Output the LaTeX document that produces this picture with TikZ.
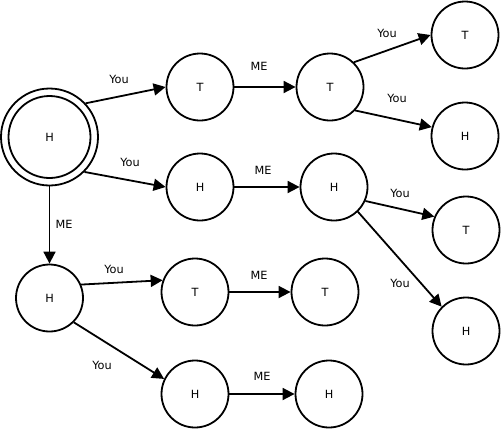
\documentclass[tikz,border=0pt]{standalone}
\usepackage{fontspec}
\setmainfont{DejaVu Sans}
\usetikzlibrary{arrows.meta}
\begin{document}
\begin{tikzpicture}[x=1pt,y=-1pt,
  state/.style={circle, draw, line width=1.8pt, minimum size=67pt, inner sep=0pt, font=\fontsize{11.3}{13}\selectfont},
  lab/.style={font=\fontsize{11.3}{13}\selectfont, inner sep=0pt},
  arr/.style={line width=1.8pt, -{Triangle[length=12pt,width=12pt]}}]
\useasboundingbox (0,0) rectangle (501,429);
\node[state, minimum size=97pt] (root) at (49.5,137) {H};
\draw[line width=1.8pt] (root.center) circle (41);
\node[state] (t1) at (200,87) {T};
\node[state] (t2) at (330,87) {T};
\node[state] (t3) at (465,35) {T};
\node[state] (h3) at (465,136) {H};
\node[state] (h1) at (200,187) {H};
\node[state] (h2) at (334,187) {H};
\node[state] (t4) at (466,230) {T};
\node[state] (h4) at (466,331) {H};
\node[state] (hl) at (49.5,298) {H};
\node[state] (t5) at (195,292) {T};
\node[state] (t6) at (325,292) {T};
\node[state] (h5) at (195,394) {H};
\node[state] (h6) at (329,394) {H};
\draw[arr] (root.43) -- (t1.west);
\draw[arr] (root.-45) -- (h1.west);
\draw[arr] (root.south) -- (hl.north);
\draw[arr] (t1) -- (t2);
\draw[arr] (t2.46) -- (t3.west);
\draw[arr] (t2.-43) -- (h3.165);
\draw[arr] (h1) -- (h2);
\draw[arr] (h2.-24) -- (t4.157);
\draw[arr] (h2.-46) -- (h4.135);
\draw[arr] (hl.23) -- (t5.160);
\draw[arr] (hl.-45) -- (h5.154);
\draw[arr] (t5) -- (t6);
\draw[arr] (h5) -- (h6);
\node[lab] (l1) at (119,79) {You};
\node[lab] (l2) at (130,162) {You};
\node[lab] (l3) at (64,224) {ME};
\node[lab] (l4) at (259,66) {ME};
\node[lab] (l5) at (387,33) {You};
\node[lab] (l6) at (397,98) {You};
\node[lab] (l7) at (263,170) {ME};
\node[lab] (l8) at (400,193) {You};
\node[lab] (l9) at (400,283) {You};
\node[lab] (l10) at (114,269) {You};
\node[lab] (l11) at (102,365) {You};
\node[lab] (l12) at (259,275) {ME};
\node[lab] (l13) at (262,376) {ME};
\end{tikzpicture}
\end{document}
